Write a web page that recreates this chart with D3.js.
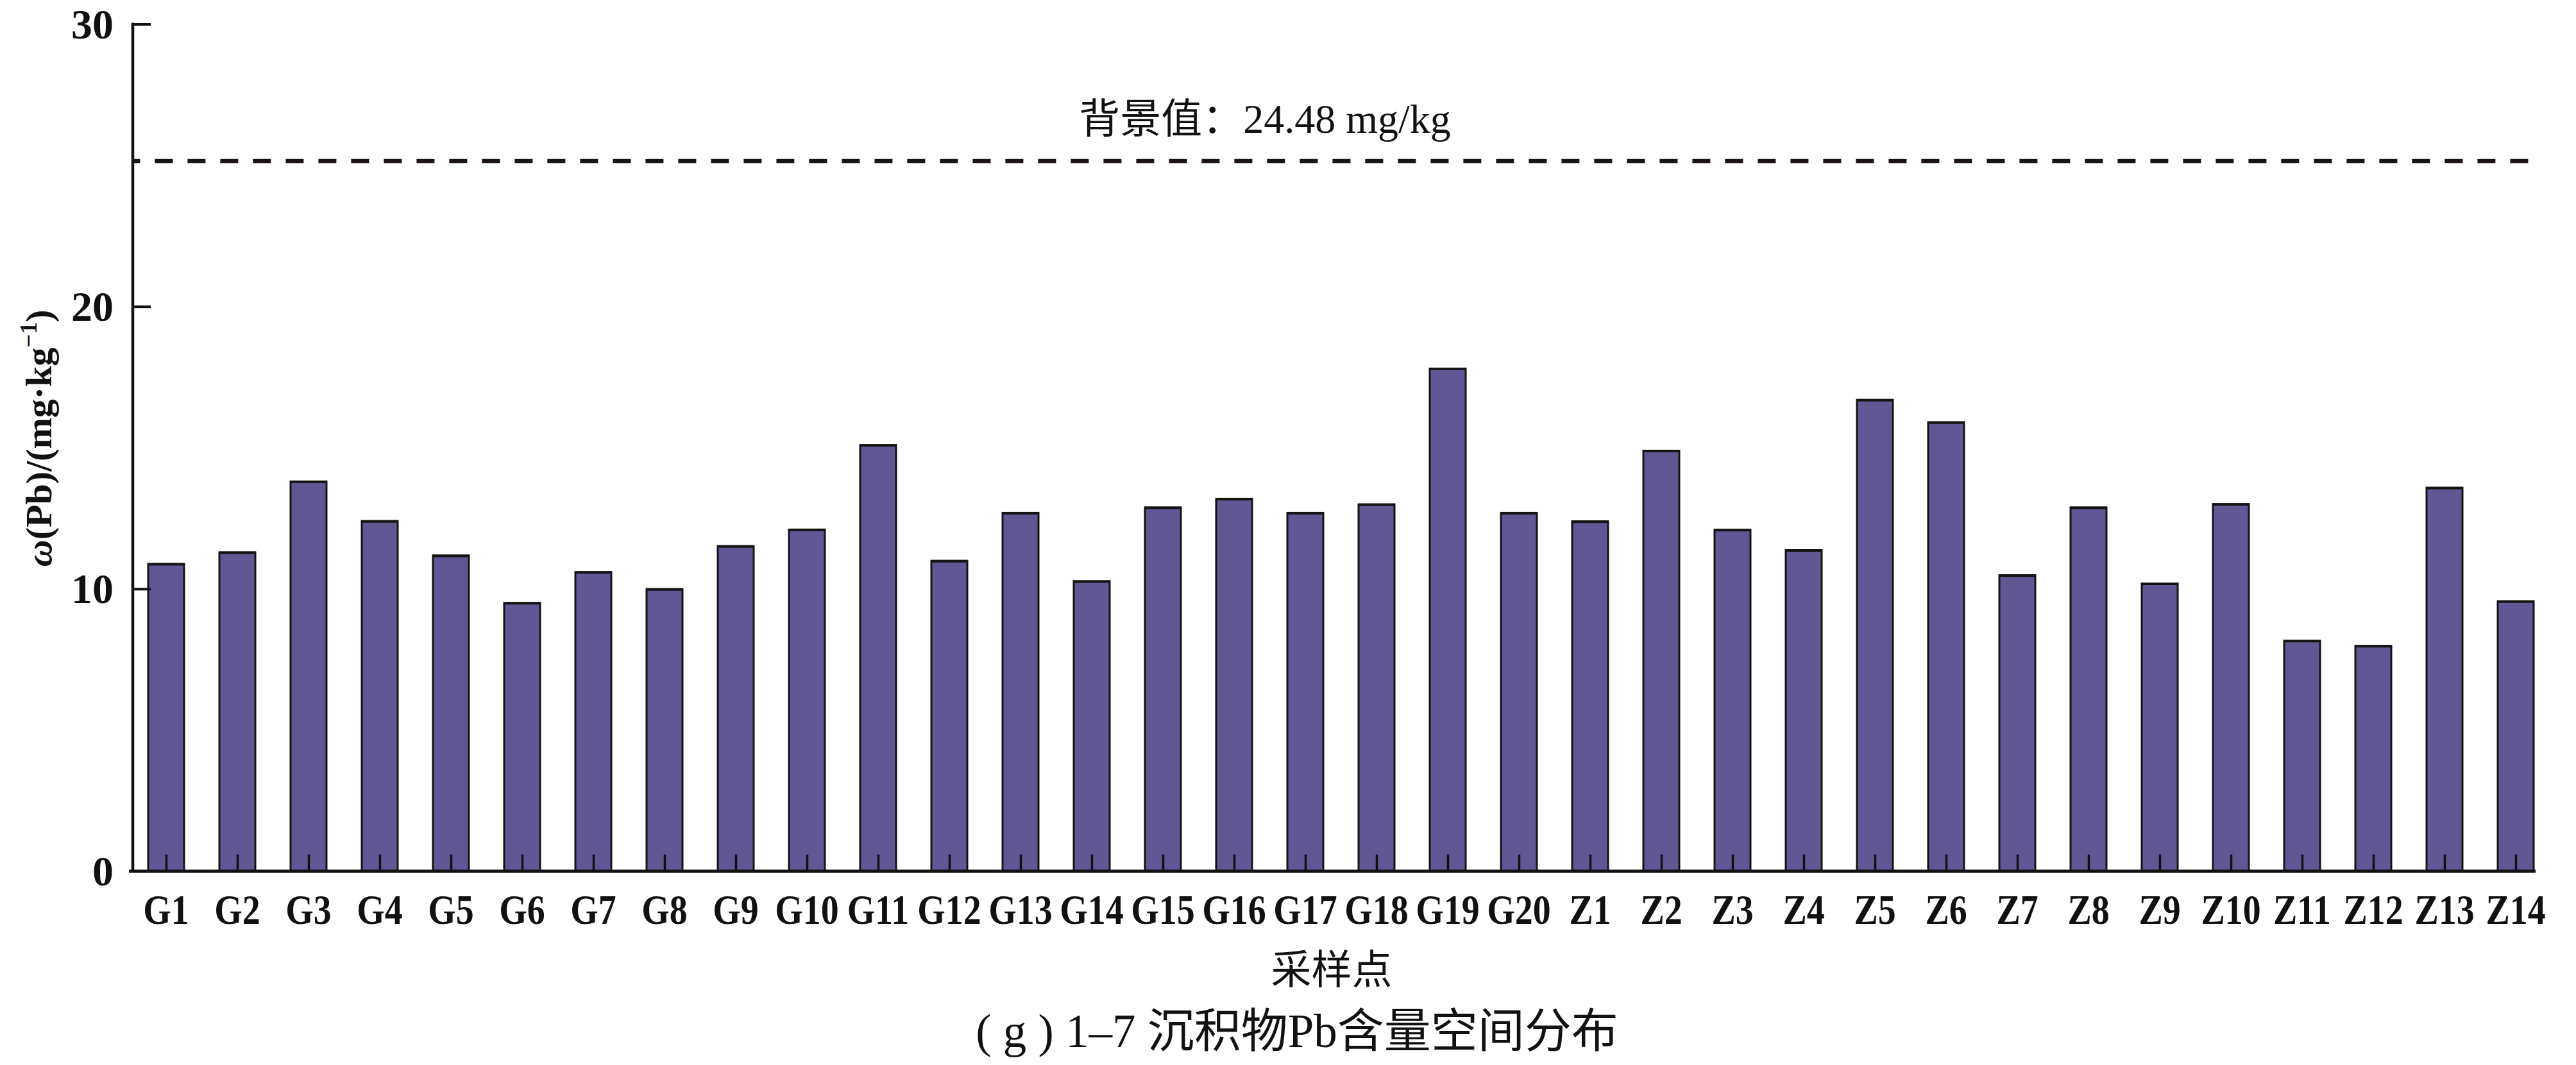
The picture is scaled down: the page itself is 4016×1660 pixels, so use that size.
<!DOCTYPE html>
<html>
<head>
<meta charset="utf-8">
<script src="https://cdn.jsdelivr.net/npm/d3@7"></script>
<style>
  html, body { margin: 0; padding: 0; background: #fff; }
  svg { display: block; }
</style>
</head>
<body>
<script>
// ---- data ----
const categories = ["G1","G2","G3","G4","G5","G6","G7","G8","G9","G10",
  "G11","G12","G13","G14","G15","G16","G17","G18","G19","G20",
  "Z1","Z2","Z3","Z4","Z5","Z6","Z7","Z8","Z9","Z10","Z11","Z12","Z13","Z14"];
const pbValues = [10.88, 11.29, 13.80, 12.40, 11.18, 9.50, 10.59, 9.99, 11.51, 12.10,
  15.09, 10.99, 12.69, 10.27, 12.88, 13.19, 12.69, 12.99, 17.80, 12.69,
  12.39, 14.89, 12.09, 11.37, 16.69, 15.90, 10.48, 12.88, 10.19, 13.00, 8.16, 7.98, 13.58, 9.56];
const yTicks = [0, 10, 20, 30];
const yDomain = [0, 30];
const backgroundLineValue = 25.15;   // where the dashed line sits in the picture
const backgroundLabel = "背景值：24.48 mg/kg";
const xAxisTitle = "采样点";
const yAxisTitle = ["ω", "(Pb)/(mg·kg", "−1", ")"];
const chartTitle = "( g ) 1–7 沉积物Pb含量空间分布";

// ---- layout ----
const W = 4016, H = 1660;
const axisX = 207, plotTop = 37.5, baseY = 1358, axisRight = 3953;
const firstC = 259, lastC = 3922, barW = 56;
const serif = "'Liberation Serif','Times New Roman','Noto Sans CJK SC',serif";
const barFill = "#615794";

const svg = d3.select("body").append("svg")
  .attr("width", W).attr("height", H)
  .attr("viewBox", `0 0 ${W} ${H}`);
svg.append("rect").attr("width", W).attr("height", H).attr("fill", "#fff");

const x = d3.scalePoint().domain(categories).range([firstC, lastC]);
const y = d3.scaleLinear().domain(yDomain).range([baseY, plotTop]);

// bars
const bars = svg.append("g").selectAll("g.bar")
  .data(categories.map((c, i) => ({c, v: pbValues[i]})))
  .join("g").attr("class", "bar");
bars.append("rect")
  .attr("x", d => x(d.c) - barW / 2)
  .attr("y", d => y(d.v))
  .attr("width", barW)
  .attr("height", d => baseY - y(d.v))
  .attr("fill", barFill)
  .attr("stroke", "#141414")
  .attr("stroke-width", 3);
// heavier top edge as in the reference
bars.append("line")
  .attr("x1", d => x(d.c) - barW / 2 - 1)
  .attr("x2", d => x(d.c) + barW / 2 + 1)
  .attr("y1", d => y(d.v) + 0.5)
  .attr("y2", d => y(d.v) + 0.5)
  .attr("stroke", "#141414").attr("stroke-width", 4);

// dashed background line
svg.append("line")
  .attr("x1", axisX).attr("x2", 3962)
  .attr("y1", y(backgroundLineValue)).attr("y2", y(backgroundLineValue))
  .attr("stroke", "#1a1414").attr("stroke-width", 6.5)
  .attr("stroke-dasharray", "28,23").attr("stroke-dashoffset", 16.6);

svg.append("text")
  .attr("x", 1972).attr("y", 207)
  .attr("text-anchor", "middle")
  .attr("font-family", serif).attr("font-size", 64)
  .attr("fill", "#111")
  .text(backgroundLabel);

// y axis
const yAxis = d3.axisRight(y).tickValues(yTicks.filter(t => t > 0)).tickSize(28).tickFormat("");
const gy = svg.append("g").attr("transform", `translate(${axisX},0)`).call(yAxis);
gy.select(".domain").remove();
gy.selectAll(".tick line").attr("stroke", "#111").attr("stroke-width", 4);
svg.append("line").attr("x1", axisX).attr("x2", axisX)
  .attr("y1", plotTop - 2).attr("y2", baseY + 2)
  .attr("stroke", "#111").attr("stroke-width", 4.5);

svg.append("g").selectAll("text.ytl")
  .data(yTicks).join("text")
  .attr("class", "ytl")
  .attr("x", 177).attr("y", d => y(d))
  .attr("dy", "0.34em")
  .attr("text-anchor", "end")
  .attr("font-family", serif).attr("font-weight", "bold").attr("font-size", 66)
  .attr("fill", "#111")
  .text(d => d);

// x axis baseline
svg.append("line").attr("x1", axisX - 6).attr("x2", axisRight)
  .attr("y1", baseY).attr("y2", baseY)
  .attr("stroke", "#111").attr("stroke-width", 5);

// x ticks (inside, drawn over bars)
const xAxis = d3.axisTop(x).tickSize(26).tickFormat("");
const gx = svg.append("g").attr("transform", `translate(0,${baseY})`).call(xAxis);
gx.select(".domain").remove();
gx.selectAll(".tick line").attr("stroke", "#111").attr("stroke-width", 3.5);

// x tick labels
svg.append("g").selectAll("text.xtl")
  .data(categories).join("text")
  .attr("class", "xtl")
  .attr("transform", d => `translate(${x(d)},1440) scale(0.86,1)`)
  .attr("text-anchor", "middle")
  .attr("font-family", serif).attr("font-weight", "bold").attr("font-size", 65)
  .attr("fill", "#111")
  .text(d => d);

// x axis title
svg.append("text")
  .attr("x", 2076).attr("y", 1533)
  .attr("text-anchor", "middle")
  .attr("font-family", serif).attr("font-size", 63)
  .attr("fill", "#111")
  .text(xAxisTitle);

// y axis title
const yt = svg.append("text")
  .attr("transform", "translate(80,683) rotate(-90)")
  .attr("text-anchor", "middle")
  .attr("font-family", serif).attr("font-weight", "bold").attr("font-size", 58)
  .attr("fill", "#111");
yt.append("tspan").attr("font-style", "italic").text(yAxisTitle[0]);
yt.append("tspan").text(yAxisTitle[1]);
yt.append("tspan").attr("dy", -23).attr("font-size", 37).text(yAxisTitle[2]);
yt.append("tspan").attr("dy", 23).text(yAxisTitle[3]);

// chart title
svg.append("text")
  .attr("x", 2022).attr("y", 1632)
  .attr("text-anchor", "middle")
  .attr("font-family", serif).attr("font-size", 73)
  .attr("fill", "#111")
  .text(chartTitle);
</script>
</body>
</html>
